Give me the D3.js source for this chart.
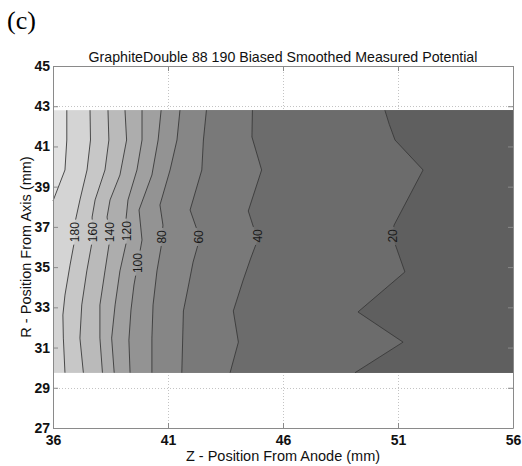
<!DOCTYPE html>
<html>
<head>
<meta charset="utf-8">
<script src="https://cdn.jsdelivr.net/npm/d3@7"></script>
<style>
  body { margin: 0; background: #fff; }
  svg { display: block; font-family: "Liberation Sans", Arial, sans-serif; }
</style>
</head>
<body>
<div id="chart"></div>
<script>
// -------------------- Data --------------------

// contour levels (V), highest first
const levels = [200, 180, 160, 140, 120, 100, 80, 60, 40, 20];

// measured region in R (mm)
const rTop = 42.8;
const rBottom = 29.75;

// each contour as [R, Z] pairs, top to bottom
const c200 = [[42.8, 36.60], [41.32, 36.60], [39.83, 36.52], [38.29, 36.0]];
const c180 = [[42.8, 37.61], [41.32, 37.63], [39.83, 37.48], [38.34, 37.17], [37.24, 36.96], [36.45, 36.96], [35.10, 36.74], [33.61, 36.52], [32.62, 36.43], [31.47, 36.45], [29.75, 36.52]];
const c160 = [[42.8, 38.39], [41.32, 38.43], [39.83, 38.26], [38.34, 37.83], [37.49, 37.70], [36.45, 37.73], [34.81, 37.47], [33.12, 37.25], [31.47, 37.17], [29.75, 37.32]];
const c140 = [[42.8, 39.13], [41.32, 39.20], [39.58, 38.91], [38.34, 38.48], [37.49, 38.35], [36.45, 38.48], [34.81, 38.26], [33.12, 38.04], [31.47, 38.04], [29.75, 38.15]];
const c120 = [[42.8, 39.87], [41.32, 39.87], [39.83, 39.65], [38.34, 39.26], [37.34, 39.17], [36.45, 39.23], [34.81, 38.91], [33.12, 38.70], [31.47, 38.55], [29.75, 38.66]];
const c100 = [[42.8, 40.70], [41.32, 40.57], [39.58, 40.30], [37.84, 39.74], [36.35, 39.87], [35.25, 39.70], [34.11, 39.52], [32.87, 39.39], [31.37, 39.30], [29.75, 39.35]];
const c80 = [[42.8, 41.52], [41.32, 41.39], [39.83, 41.09], [38.09, 40.65], [37.09, 40.78], [36.0, 40.70], [34.81, 40.52], [33.12, 40.35], [31.47, 40.30], [29.75, 40.30]];
const c60 = [[42.8, 42.67], [41.32, 42.54], [39.83, 42.47], [37.84, 41.96], [36.89, 42.25], [36.3, 42.35], [35.25, 42.09], [33.96, 41.87], [32.82, 41.67], [29.75, 41.60]];
const c40 = [[42.8, 44.67], [41.47, 44.65], [39.83, 45.07], [37.79, 44.49], [36.76, 44.78], [36.45, 44.93], [35.45, 44.60], [34.36, 44.27], [32.82, 43.84], [31.27, 44.06], [29.75, 43.70]];
const c20 = [[42.8, 50.43], [42.1, 50.62], [41.32, 50.87], [39.83, 52.09], [37.09, 50.83], [36.55, 50.75], [34.76, 51.30], [32.77, 49.26], [31.27, 51.22], [29.75, 49.13]];

const contourLines = [c200, c180, c160, c140, c120, c100, c80, c60, c40, c20];

// R where each inline label sits (null = unlabeled)
const labelR = [null, 36.74, 36.74, 36.74, 36.79, 35.2, 36.5, 36.5, 36.55, 36.55];

// axis ticks
const zTicks = [36, 41, 46, 51, 56];
const rTicks = [27, 29, 31, 33, 35, 37, 39, 41, 43, 45];


// -------------------- Setup --------------------

const WIDTH = 522;
const HEIGHT = 466;
const PLOT = { left: 53, right: 513, top: 66, bottom: 428 };

const svg = d3.select("#chart")
    .append("svg")
    .attr("width", WIDTH)
    .attr("height", HEIGHT);

const x = d3.scaleLinear().domain([36, 56]).range([PLOT.left, PLOT.right]);
const y = d3.scaleLinear().domain([27, 45]).range([PLOT.bottom, PLOT.top]);

// gray colormap, evaluated at the middle of each band
const gray = d3.scaleLinear().domain([10, 210]).range(["#5f5f5f", "#e1e1e1"]);

const toPx = p => [x(p[1]), y(p[0])];
const line = d3.line();


// ***** GRID *****
const gridGroup = svg.append("g")
    .attr("stroke", "#c4c4c4")
    .attr("stroke-width", 1)
    .attr("stroke-dasharray", "1,2");

gridGroup.selectAll("line.v")
    .data(zTicks.slice(1, -1))
    .join("line")
    .attr("class", "v")
    .attr("x1", d => Math.round(x(d)) + 0.5)
    .attr("x2", d => Math.round(x(d)) + 0.5)
    .attr("y1", PLOT.top)
    .attr("y2", PLOT.bottom);

gridGroup.selectAll("line.h")
    .data(rTicks.slice(1, -1))
    .join("line")
    .attr("class", "h")
    .attr("x1", PLOT.left)
    .attr("x2", PLOT.right)
    .attr("y1", d => Math.round(y(d)) + 0.5)
    .attr("y2", d => Math.round(y(d)) + 0.5);


// ***** FILLED BANDS *****
const bandGroup = svg.append("g");

// highest band fills the whole measured region first
bandGroup.append("rect")
    .attr("x", x(36))
    .attr("y", y(rTop))
    .attr("width", x(56) - x(36))
    .attr("height", y(rBottom) - y(rTop))
    .attr("fill", gray(levels[0] + 10));

// then each region below a level is laid over it
contourLines.forEach((pts, i) => {
    const poly = pts.slice();
    const last = pts[pts.length - 1];
    if (last[0] > rBottom) poly.push([rBottom, 36]);
    poly.push([rBottom, 56], [rTop, 56]);
    bandGroup.append("path")
        .attr("d", line(poly.map(toPx)) + "Z")
        .attr("fill", gray(levels[i] - 10));
});


// ***** CONTOUR LINES + LABELS *****
// Z of a contour at a given R (linear between read points)
const zAt = (pts, r) => {
    for (let k = 0; k < pts.length - 1; k++) {
        const a = pts[k], b = pts[k + 1];
        if (r <= a[0] && r >= b[0]) {
            const t = (a[0] - r) / (a[0] - b[0]);
            return a[1] + t * (b[1] - a[1]);
        }
    }
    return pts[0][1];
};

const labels = levels
    .map((lv, i) => ({ level: lv, r: labelR[i], pts: contourLines[i] }))
    .filter(d => d.r !== null)
    .map(d => ({ ...d, z: zAt(d.pts, d.r) }));

// mask cuts the lines where labels sit
const mask = svg.append("defs").append("mask").attr("id", "label-gap");
mask.append("rect")
    .attr("width", WIDTH).attr("height", HEIGHT).attr("fill", "#fff");
mask.selectAll("rect.gap")
    .data(labels)
    .join("rect")
    .attr("class", "gap")
    .attr("x", d => x(d.z) - 6)
    .attr("y", d => y(d.r) - (String(d.level).length * 7 + 4) / 2)
    .attr("width", 12)
    .attr("height", d => String(d.level).length * 7 + 4)
    .attr("fill", "#000");

svg.append("g")
    .attr("fill", "none")
    .attr("stroke", "#3a3a3a")
    .attr("stroke-width", 0.9)
    .attr("mask", "url(#label-gap)")
    .selectAll("path")
    .data(contourLines)
    .join("path")
    .attr("d", d => line(d.map(toPx)));

svg.append("g")
    .attr("font-size", 12)
    .attr("fill", "#1a1a1a")
    .attr("text-anchor", "middle")
    .selectAll("text")
    .data(labels)
    .join("text")
    .attr("transform", d => `translate(${x(d.z)},${y(d.r)}) rotate(-90)`)
    .attr("dy", "0.36em")
    .text(d => d.level);


// ***** AXES *****
const axisStyle = g => {
    g.select(".domain").attr("stroke", "#8a8a8a");
    g.selectAll(".tick line").attr("stroke", "#8a8a8a");
    g.selectAll(".tick text")
        .attr("fill", "#111")
        .attr("font-size", 14)
        .attr("font-weight", "bold")
        .attr("font-family", "'Liberation Sans', Arial, sans-serif");
};

svg.append("g")
    .attr("transform", `translate(0,${PLOT.bottom})`)
    .call(d3.axisBottom(x).tickValues(zTicks).tickSizeInner(-5).tickSizeOuter(0).tickPadding(7))
    .call(axisStyle);

svg.append("g")
    .attr("transform", `translate(${PLOT.left},0)`)
    .call(d3.axisLeft(y).tickValues(rTicks).tickSizeInner(-5).tickSizeOuter(0).tickPadding(3))
    .call(axisStyle);

svg.append("g")
    .attr("transform", `translate(0,${PLOT.top})`)
    .call(d3.axisTop(x).tickValues(zTicks).tickSizeInner(-5).tickSizeOuter(0).tickFormat(""))
    .call(axisStyle);

svg.append("g")
    .attr("transform", `translate(${PLOT.right},0)`)
    .call(d3.axisRight(y).tickValues(rTicks).tickSizeInner(-5).tickSizeOuter(0).tickFormat(""))
    .call(axisStyle);


// ***** TEXT *****
svg.append("text")
    .attr("x", 7)
    .attr("y", 29)
    .attr("font-family", "'Liberation Serif', 'Times New Roman', serif")
    .attr("font-size", 26)
    .text("(c)");

svg.append("text")
    .attr("x", (PLOT.left + PLOT.right) / 2)
    .attr("y", 62)
    .attr("text-anchor", "middle")
    .attr("font-size", 14.2)
    .attr("fill", "#111")
    .text("GraphiteDouble 88 190 Biased Smoothed Measured Potential");

svg.append("text")
    .attr("x", (PLOT.left + PLOT.right) / 2)
    .attr("y", 461)
    .attr("text-anchor", "middle")
    .attr("font-size", 14.5)
    .attr("fill", "#111")
    .text("Z - Position From Anode (mm)");

svg.append("text")
    .attr("transform", `translate(31,${(PLOT.top + PLOT.bottom) / 2}) rotate(-90)`)
    .attr("text-anchor", "middle")
    .attr("font-size", 14.5)
    .attr("fill", "#111")
    .text("R - Position From Axis (mm)");
</script>
</body>
</html>
